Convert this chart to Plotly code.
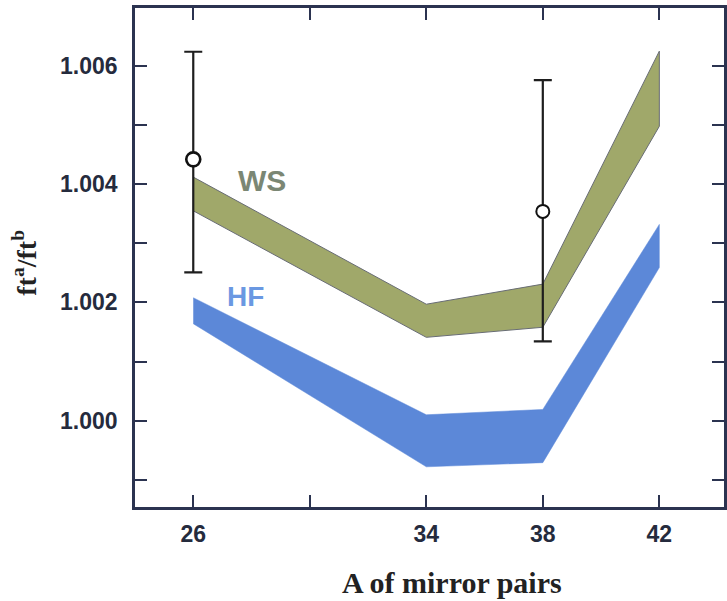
import plotly.graph_objects as go

# ---- data ----
A = [26, 34, 38, 42]
ws_upper = [1.00412, 1.00197, 1.00231, 1.00625]
ws_lower = [1.00355, 1.00141, 1.00158, 1.00498]
hf_upper = [1.00208, 1.00010, 1.00019, 1.00332]
hf_lower = [1.00164, 0.99922, 0.99929, 1.00259]

exp_A = [26, 38]
exp_val = [1.00442, 1.00354]
exp_err_plus = [0.00182, 0.00222]
exp_err_minus = [0.00191, 0.00220]

x_tickvals = [26, 30, 34, 38, 42]
x_ticktext = ["26", "", "34", "38", "42"]
y_tickvals = [1.000, 1.002, 1.004, 1.006]
y_ticktext = ["1.000", "1.002", "1.004", "1.006"]

AXIS = "#2b3350"
TICKFONT = dict(family="Liberation Sans, Arial, sans-serif", size=23,
                color="#252b3d", weight="bold")
SERIF = "Liberation Serif, Times New Roman, serif"

fig = go.Figure()

# WS band
fig.add_trace(go.Scatter(
    x=A + A[::-1], y=ws_upper + ws_lower[::-1],
    fill="toself", fillcolor="#a0a86a",
    line=dict(color="#686c74", width=1), mode="lines",
    hoverinfo="skip", showlegend=False))

# HF band
fig.add_trace(go.Scatter(
    x=A + A[::-1], y=hf_upper + hf_lower[::-1],
    fill="toself", fillcolor="#5c88d8",
    line=dict(color="#5c88d8", width=0.5), mode="lines",
    hoverinfo="skip", showlegend=False))

# experimental points
fig.add_trace(go.Scatter(
    x=exp_A, y=exp_val, mode="markers",
    marker=dict(size=[14, 13], color="white", opacity=1,
                line=dict(color="#111111", width=[2.6, 2.0])),
    error_y=dict(type="data", symmetric=False, array=exp_err_plus,
                 arrayminus=exp_err_minus, color="#1e1e1e",
                 thickness=2.2, width=9),
    showlegend=False))

fig.add_annotation(x=28.36, y=1.00406, text="<b>WS</b>", showarrow=False,
                   font=dict(family="Liberation Sans, Arial, sans-serif", size=30, color="#7b8774"))
fig.add_annotation(x=27.78, y=1.0021, text="<b>HF</b>", showarrow=False,
                   font=dict(family="Liberation Sans, Arial, sans-serif", size=28, color="#6a98e2"))

# axis titles
fig.add_annotation(xref="paper", yref="paper", x=0.539, y=-0.152,
                   text="<b>A of mirror pairs</b>", showarrow=False,
                   xanchor="center", yanchor="middle",
                   font=dict(family=SERIF, size=30, color="#222"))
fig.add_annotation(xref="paper", yref="paper", x=-0.188, y=0.49,
                   text="<b>ft<sup>a</sup>/ft<sup>b</sup></b>", showarrow=False,
                   textangle=-90, xanchor="center", yanchor="middle",
                   font=dict(family=SERIF, size=28, color="#222"))

fig.update_xaxes(range=[24, 44.22], tickvals=x_tickvals, ticktext=x_ticktext,
                 ticks="inside", ticklen=12, tickwidth=2, tickcolor=AXIS,
                 showline=True, linecolor=AXIS, linewidth=2.5, mirror="ticks",
                 showgrid=False, zeroline=False, tickfont=TICKFONT,
                 ticklabelstandoff=5)
fig.update_yaxes(range=[0.99854, 1.00698], tickvals=y_tickvals, ticktext=y_ticktext,
                 ticks="inside", ticklen=12, tickwidth=2, tickcolor=AXIS,
                 minor=dict(dtick=0.001, tick0=1.0, ticks="inside", ticklen=12,
                            tickwidth=2, tickcolor=AXIS),
                 showline=True, linecolor=AXIS, linewidth=2.5, mirror="ticks",
                 showgrid=False, zeroline=False, tickfont=TICKFONT,
                 ticklabelstandoff=10)

fig.update_layout(width=727, height=601, margin=dict(l=135, r=0, t=8, b=94),
                  plot_bgcolor="white", paper_bgcolor="white", showlegend=False)

fig.write_html("out.html", config={"displayModeBar": False},
               post_script="document.body.style.margin='0';document.body.style.overflow='hidden';")
